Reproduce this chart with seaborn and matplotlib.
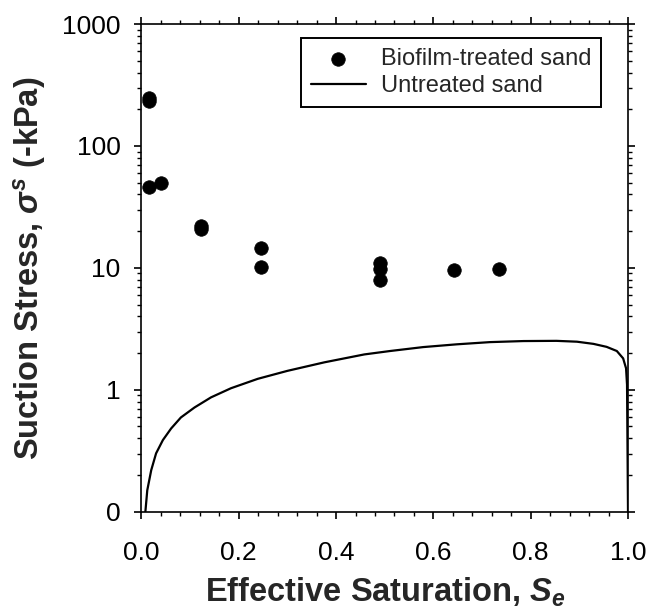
import numpy as np
import pandas as pd
import matplotlib
matplotlib.use("Agg")
import matplotlib.pyplot as plt
import seaborn as sns
from matplotlib.ticker import FixedLocator, FixedFormatter, LogLocator, MultipleLocator, NullFormatter

# Biofilm-treated sand (measured points)
treated_se = [0.015, 0.015, 0.015, 0.041, 0.122, 0.122, 0.245, 0.245, 0.49, 0.49, 0.49, 0.643, 0.734]
treated_stress = [232, 246, 46, 50, 22, 21, 14.5, 10.2, 10.9, 9.7, 7.9, 9.6, 9.8]

# Untreated sand (curve)
untreated_se = [0.008, 0.0119, 0.020, 0.030, 0.044, 0.061, 0.081, 0.109, 0.143, 0.184,
                0.239, 0.300, 0.376, 0.458, 0.511, 0.579, 0.648, 0.716, 0.785, 0.853,
                0.895, 0.929, 0.956, 0.977, 0.990, 0.996, 0.998, 1.0]
untreated_stress = [0.1, 0.150, 0.219, 0.301, 0.387, 0.482, 0.593, 0.716, 0.867, 1.03,
                    1.23, 1.43, 1.68, 1.95, 2.08, 2.24, 2.36, 2.46, 2.51, 2.52,
                    2.48, 2.38, 2.25, 2.08, 1.81, 1.50, 1.1, 0.1]

y_ticks = [0.1, 1, 10, 100, 1000]
y_labels = ["0", "1", "10", "100", "1000"]
x_ticks = [0.0, 0.2, 0.4, 0.6, 0.8, 1.0]
x_labels = ["0.0", "0.2", "0.4", "0.6", "0.8", "1.0"]

sns.set_style("ticks")
plt.rcParams["font.family"] = ["Liberation Sans", "DejaVu Sans"]
plt.rcParams["mathtext.fontset"] = "custom"
plt.rcParams["mathtext.rm"] = "Liberation Sans:bold"
plt.rcParams["mathtext.it"] = "Liberation Sans:italic:bold"
plt.rcParams["mathtext.bf"] = "Liberation Sans:bold"

treated = pd.DataFrame({"Se": treated_se, "stress": treated_stress})
untreated = pd.DataFrame({"Se": untreated_se, "stress": untreated_stress})

fig = plt.figure(figsize=(6.52, 6.16), dpi=100)
ax = fig.add_axes([0.217, 0.1693, 0.7462, 0.7917])

sns.lineplot(data=untreated, x="Se", y="stress", ax=ax, color="black", lw=1.6,
             estimator=None, sort=False, label="Untreated sand")
sns.scatterplot(data=treated, x="Se", y="stress", ax=ax, color="black", s=95,
                edgecolor="black", linewidth=0.5, label="Biofilm-treated sand", zorder=3)

ax.set_yscale("log")
ax.set_xlim(0, 1.0)
ax.set_ylim(0.1, 1000)

ax.yaxis.set_major_locator(FixedLocator(y_ticks))
ax.yaxis.set_major_formatter(FixedFormatter(y_labels))
ax.yaxis.set_minor_locator(LogLocator(base=10, subs=np.arange(2, 10)))
ax.yaxis.set_minor_formatter(NullFormatter())
ax.xaxis.set_major_locator(FixedLocator(x_ticks))
ax.xaxis.set_major_formatter(FixedFormatter(x_labels))
ax.xaxis.set_minor_locator(MultipleLocator(0.04))

for s in ax.spines.values():
    s.set_visible(True)
    s.set_linewidth(1.2)
    s.set_color("black")

ax.tick_params(which="both", direction="out", top=True, right=True, colors="black")
ax.tick_params(which="major", length=5, width=1.2, labelsize=19)
ax.tick_params(which="minor", length=3, width=1.0)
ax.tick_params(axis="x", which="major", pad=16)
ax.tick_params(axis="y", which="major", pad=10)

ax.set_xlabel(r"Effective Saturation, $S_e$", fontsize=23.5, fontweight="bold", labelpad=8)
ax.set_ylabel(r"Suction Stress, $\sigma^s$ (-kPa)", fontsize=23.5, fontweight="bold", labelpad=10)

h, l = ax.get_legend_handles_labels()
order = [l.index("Biofilm-treated sand"), l.index("Untreated sand")]
leg = ax.legend([h[i] for i in order], [l[i] for i in order], loc="upper right",
                bbox_to_anchor=(0.9455, 0.971), borderaxespad=0, fontsize=17,
                frameon=True, fancybox=False, edgecolor="black", framealpha=1,
                handlelength=2.33, borderpad=0.42, labelspacing=0.2, handletextpad=0.64)
leg.get_frame().set_linewidth(1.4)

fig.savefig("out.png", dpi=100)
